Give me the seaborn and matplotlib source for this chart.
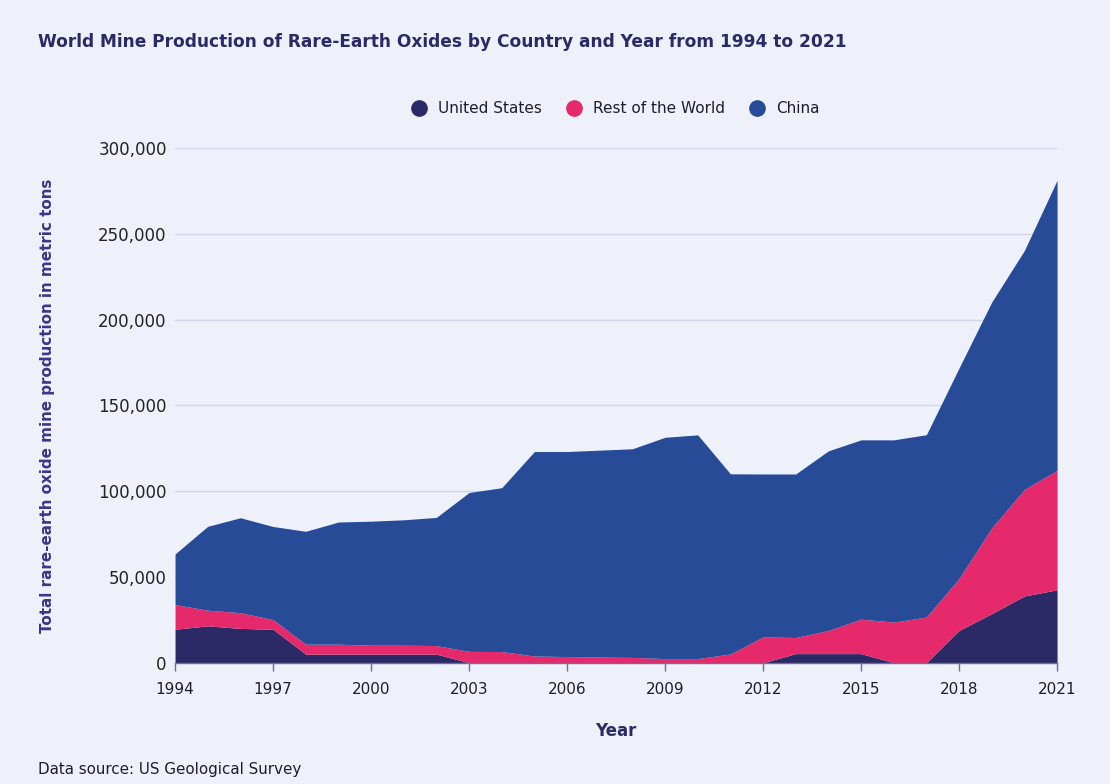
import numpy as np
import pandas as pd
import matplotlib
matplotlib.use("Agg")
import matplotlib.pyplot as plt
from matplotlib.lines import Line2D
from matplotlib.ticker import FuncFormatter
import seaborn as sns

years = list(range(1994, 2022))
united_states = [19500, 21500, 20000, 19500, 5000, 5000, 5000, 5000, 5000, 0, 0, 0, 0, 0,
                 0, 0, 0, 0, 0, 5300, 5300, 5300, 0, 0, 18800, 28600, 38900, 42500]
rest_of_world = [14400, 9100, 9200, 5600, 5800, 5800, 5200, 5200, 5000, 6600, 6500, 3900,
                 3600, 3300, 3100, 2400, 2400, 5100, 15000, 9400, 13500, 20100, 23700, 26600,
                 30300, 49900, 62100, 69600]
china = [29500, 48900, 55300, 54300, 65800, 71200, 72300, 73100, 74700, 92600, 95500, 119200,
         119500, 120600, 121600, 129000, 130400, 105000, 95000, 95300, 104700, 104500, 106200,
         106300, 122700, 131700, 139300, 169100]
series_names = ["United States", "Rest of the World", "China"]
x_ticks = list(range(1994, 2022, 3))
y_ticks = [0, 50000, 100000, 150000, 200000, 250000, 300000]

df = pd.DataFrame({"Year": years, "United States": united_states,
                   "Rest of the World": rest_of_world, "China": china})

bg = "#EEF1F9"
navy = "#2B2A66"
colors = ["#2B2A66", "#E6296A", "#284B98"]

sns.set_theme(style="white", rc={"axes.facecolor": bg, "figure.facecolor": bg})
plt.rcParams["font.family"] = ["DejaVu Sans"]

fig = plt.figure(figsize=(11.1, 7.84), dpi=100)
ax = fig.add_axes([0.1577, 0.1547, 0.7946, 0.6565])

ax.stackplot(df["Year"], df["United States"], df["Rest of the World"], df["China"],
             colors=colors, linewidth=0, zorder=2)

ax.set_xlim(1994, 2021)
ax.set_ylim(0, 300000)
ax.set_xticks(x_ticks)
ax.set_yticks(y_ticks)
ax.yaxis.set_major_formatter(FuncFormatter(lambda v, p: f"{int(v):,}"))
ax.grid(axis="y", color="#D3D6E8", linewidth=1, zorder=0)
ax.set_axisbelow(True)
for s in ["left", "right", "top"]:
    ax.spines[s].set_visible(False)
ax.spines["bottom"].set_color("#6E6CA0")
ax.spines["bottom"].set_linewidth(1)
ax.spines["bottom"].set_zorder(3)
ax.tick_params(axis="x", bottom=True, length=6, width=1, color="#6E6CA0",
               labelsize=11, labelcolor="#1E1E2A", pad=8)
ax.tick_params(axis="y", left=False, length=0, labelsize=12, labelcolor="#222222", pad=6)

ax.set_xlabel("Year", fontsize=12, fontweight="bold", color=navy, labelpad=18)
ax.set_ylabel("Total rare-earth oxide mine production in metric tons", fontsize=10.9,
              fontweight="bold", color="#3A3587", labelpad=31)

fig.text(0.034, 0.946, "World Mine Production of Rare-Earth Oxides by Country and Year from 1994 to 2021",
         fontsize=12.25, fontweight="bold", color=navy, ha="left", va="center")
fig.text(0.034, 0.019, "Data source: US Geological Survey", fontsize=10.9,
         color="#1E1E2A", ha="left", va="center")

handles = [Line2D([0], [0], marker="o", linestyle="", markersize=11,
                  markerfacecolor=c, markeredgecolor=c) for c in colors]
fig.legend(handles, series_names, loc="center", bbox_to_anchor=(0.551, 0.861), ncol=3,
           frameon=False, fontsize=11, handletextpad=0.25, columnspacing=1.1,
           labelcolor="#1E1E2A")

fig.savefig("out.png", dpi=100, facecolor=bg)
